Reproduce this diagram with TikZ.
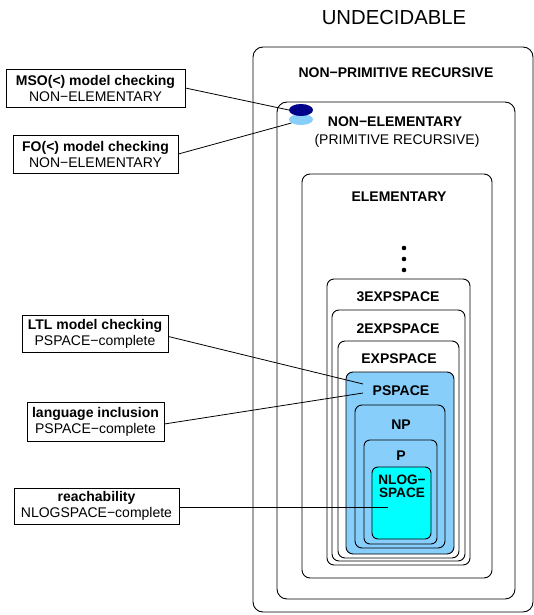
\documentclass[tikz,border=0pt]{standalone}
\usepackage{fontspec}
\setmainfont{Liberation Sans}
\usetikzlibrary{shapes.geometric}
\definecolor{lblue}{RGB}{135,206,250}
\definecolor{cyanc}{RGB}{0,255,255}
\definecolor{navyc}{RGB}{0,0,139}
\tikzset{
  cls/.style={draw=black, line width=0.9pt, rounded corners=#1},
  cls/.default=7pt,
  lbl/.style={font=\bfseries\fontsize{14}{16}\selectfont, anchor=base, inner sep=0pt},
  rlbl/.style={font=\fontsize{14}{16}\selectfont, anchor=base, inner sep=0pt},
  probox/.style={draw=black, line width=0.8pt, align=center, inner sep=0pt, font=\fontsize{14}{16}\selectfont},
  conn/.style={draw=black, line width=0.8pt},
  blob/.style={ellipse, minimum width=24pt, minimum height=#1, inner sep=0pt}
}
\begin{document}
\begin{tikzpicture}[x=1pt,y=-1pt]
\useasboundingbox (0,0) rectangle (534,615);
% nested classes
\draw[cls=10pt, fill=white] (253,47) rectangle (533,612);
\draw[cls=10pt, fill=white] (277,102) rectangle (515,599);
\draw[cls=8pt, fill=white] (302,174) rectangle (492,578);
\draw[cls=7pt, fill=white] (327,279) rectangle (470,565);
\draw[cls=7pt, fill=white] (332,310) rectangle (465,561);
\draw[cls=7pt, fill=white] (338,341) rectangle (459,558);
\draw[cls=7pt, fill=lblue] (346,372) rectangle (454,554);
\draw[cls=7pt, fill=lblue] (355,405) rectangle (445,548);
\draw[cls=6pt, fill=lblue] (364,440) rectangle (437,544);
\draw[cls=6pt, fill=cyanc] (372,467) rectangle (431,539);
% labels
\node[rlbl, font=\fontsize{20.3}{22}\selectfont] (und) at (394,25) {UNDECIDABLE};
\node[lbl] (npr) at (396,78) {NON−PRIMITIVE RECURSIVE};
\node[lbl] (nel) at (395,126) {NON−ELEMENTARY};
\node[rlbl] (prr) at (397,144) {(PRIMITIVE RECURSIVE)};
\node[lbl] (ele) at (399,201) {ELEMENTARY};
\fill (404,248) circle (2.3pt) (404,259) circle (2.3pt) (404,270) circle (2.3pt);
\node[lbl] (e3) at (398,301) {3EXPSPACE};
\node[lbl] (e2) at (398,333) {2EXPSPACE};
\node[lbl] (e1) at (399,363) {EXPSPACE};
\node[lbl] (ps) at (401,395) {PSPACE};
\node[lbl] (np) at (401,429) {NP};
\node[lbl] (pp) at (401,460) {P};
\node[lbl, font=\bfseries\fontsize{13.6}{14}\selectfont] (nla) at (402,484) {NLOG−};
\node[lbl, font=\bfseries\fontsize{13.6}{14}\selectfont] (nlb) at (402,497.5) {SPACE};
% blobs
\node[blob=11pt, fill=lblue] (fob) at (301,119.5) {};
\node[blob=12pt, fill=navyc] (msob) at (301,110) {};
% problem boxes
\node[probox, minimum width=179pt, minimum height=38pt] (mso) at (95.5,88) {\textbf{MSO(<) model checking}\\NON−ELEMENTARY};
\node[probox, minimum width=165pt, minimum height=38pt] (fo) at (95.5,154) {\textbf{FO(<) model checking}\\NON−ELEMENTARY};
\node[probox, minimum width=146pt, minimum height=37pt] (ltl) at (95,333.5) {\textbf{LTL model checking}\\PSPACE−complete};
\node[probox, minimum width=137pt, minimum height=39pt] (lang) at (95.5,421.5) {\textbf{language inclusion}\\PSPACE−complete};
\node[probox, minimum width=165pt, minimum height=36pt] (reach) at (96.5,506) {\textbf{reachability}\\NLOGSPACE−complete};
% connector ends
\coordinate (ltlend) at (363,384);
\coordinate (langend) at (363,393);
\coordinate (reachend) at (388,507);
% connectors
\draw[conn] (mso.east) -- (msob.west);
\draw[conn] (fo.east) -- (fob.200);
\draw[conn] (ltl.east) ++(0,3) -- (ltlend);
\draw[conn] (lang.east) ++(0,2.5) -- (langend);
\draw[conn] (reach.east) ++(0,1) -- (reachend);
\end{tikzpicture}
\end{document}
